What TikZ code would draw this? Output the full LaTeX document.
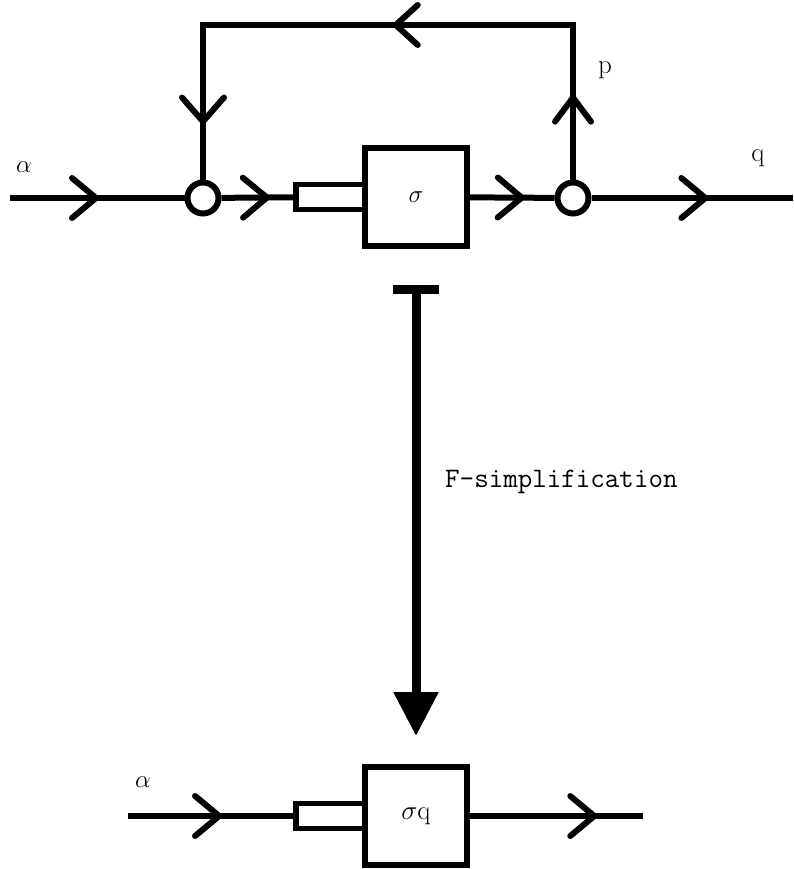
\RequirePackage{fix-cm}
\documentclass[tikz,border=0pt]{standalone}
\usetikzlibrary{arrows.meta,decorations.markings}
\begin{document}
\begin{tikzpicture}[x=1pt,y=-1pt,
  wire/.style={line width=6pt},
  flowarrow/.style={postaction={decorate},decoration={markings,
    mark=at position #1 with {\arrow{Straight Barb[round,length=24pt,width=40pt]}}}},
  feedback/.style={postaction={decorate},decoration={markings,
    mark=at position 0.125 with {\arrow{Straight Barb[round,length=24pt,width=36pt]}},
    mark=at position 0.493 with {\arrow{Straight Barb[round,length=22pt,width=40pt]}},
    mark=at position 0.919 with {\arrow{Straight Barb[round,length=24pt,width=42pt]}}}},
  junction/.style={circle,draw,line width=6pt,minimum size=31pt,inner sep=0pt},
  block/.style={rectangle,draw,line width=6pt,minimum width=102pt,minimum height=98pt,outer sep=0pt,inner sep=0pt},
  port/.style={rectangle,draw,line width=5.5pt,minimum width=69pt,minimum height=25pt,outer sep=0pt,inner sep=0pt},
  lbl/.style={font=\fontsize{25}{28}\selectfont,inner sep=0pt}]
\useasboundingbox (0,0) rectangle (793,869);
%%% The system sigma with the feedback loop through p
\node[junction] (join) at (203,198) {};
\node[junction] (split) at (573,198) {};
\node[block,lbl] (sigma) at (416,197) {$\sigma$};
\node[port,anchor=east] (sigmaport) at (sigma.west) {};
\coordinate (in) at (10,198);
\coordinate (out) at (793,198);
\coordinate (loopR) at (573,25);
\coordinate (loopL) at (203,25);
%%%%% The edges along the main line
\draw[wire,flowarrow=0.51] (in) -- (join);
\draw[wire,flowarrow=0.65] (join) -- (sigmaport);
\draw[wire,flowarrow=0.66] (sigma) -- (split);
\draw[wire,flowarrow=0.58] (split) -- (out);
%%%%% The feedback edge
\draw[wire,feedback,line join=miter] (split) -- (loopR) -- (loopL) -- (join);
%%%%% Labels
\node[lbl,anchor=base] (alphain) at (24,172) {$\alpha$};
\node[lbl,font=\fontsize{27}{30}\selectfont,anchor=base] (plabel) at (605,74) {p};
\node[lbl,font=\fontsize{27}{30}\selectfont,anchor=base] (qlabel) at (758,161) {q};
%%% The simplified system sigma q
\node[block,lbl,font=\fontsize{27}{30}\selectfont] (sigmaq) at (416,816) {$\sigma$q};
\node[port,anchor=east] (sigmaqport) at (sigmaq.west) {};
\coordinate (inq) at (128,816);
\coordinate (outq) at (643,816);
\draw[wire,flowarrow=0.56] (inq) -- (sigmaqport);
\draw[wire,flowarrow=0.74] (sigmaq) -- (outq);
\node[lbl,anchor=base] (alphaq) at (143,787) {$\alpha$};
%%%% The F-simplification step
\draw[line width=9pt,{Bar[width=46pt]}-{Triangle[width=43pt,length=44pt]},
  shorten <=39pt,shorten >=31pt] (sigma) -- (sigmaq);
\node[anchor=base west,font=\fontsize{28.2}{30}\ttfamily,inner sep=0pt] (simplabel) at (445,487) {F-simplification};
\end{tikzpicture}
\end{document}
